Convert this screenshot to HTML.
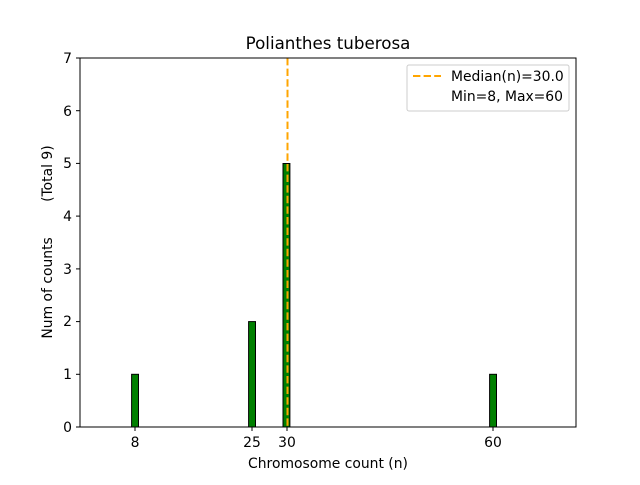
<!DOCTYPE html>
<html><head><style>body{margin:0;background:#fff}text{white-space:pre}</style></head><body>
<svg width="640" height="480" xmlns="http://www.w3.org/2000/svg" font-family="DejaVu Sans, Liberation Sans, sans-serif">
<rect width="640" height="480" fill="#fff"/>
<g fill="green" stroke="#000" stroke-width="1">
<rect x="131.6" y="374.3" width="6.9" height="52.7"/>
<rect x="248.6" y="321.6" width="6.9" height="105.4"/>
<rect x="283.0" y="163.5" width="6.9" height="263.5"/>
<rect x="489.6" y="374.3" width="6.9" height="52.7"/>
</g>
<line x1="287.5" y1="58" x2="287.5" y2="427" stroke="orange" stroke-width="2" stroke-dasharray="7.4,3.2"/>
<rect x="80" y="58" width="496" height="369" fill="none" stroke="#000" stroke-width="1"/>
<g stroke="#000">
<line x1="135" y1="427" x2="135" y2="431"/><line x1="252" y1="427" x2="252" y2="431"/>
<line x1="287" y1="427" x2="287" y2="431"/><line x1="493" y1="427" x2="493" y2="431"/>
<line x1="76" y1="427" x2="80" y2="427"/><line x1="76" y1="374.3" x2="80" y2="374.3"/>
<line x1="76" y1="321.6" x2="80" y2="321.6"/><line x1="76" y1="268.9" x2="80" y2="268.9"/>
<line x1="76" y1="216.1" x2="80" y2="216.1"/><line x1="76" y1="163.4" x2="80" y2="163.4"/>
<line x1="76" y1="110.7" x2="80" y2="110.7"/><line x1="76" y1="58" x2="80" y2="58"/>
</g>
<g font-size="13.9" text-anchor="middle">
<text x="135" y="447">8</text><text x="252" y="447">25</text><text x="287" y="447">30</text><text x="493" y="447">60</text>
</g>
<g font-size="13.9" text-anchor="end">
<text x="72" y="432">0</text><text x="72" y="379">1</text><text x="72" y="326">2</text><text x="72" y="274">3</text>
<text x="72" y="221">4</text><text x="72" y="168">5</text><text x="72" y="116">6</text><text x="72" y="63">7</text>
</g>
<text x="328" y="468" font-size="13.9" text-anchor="middle">Chromosome count (n)</text>
<text transform="translate(52,242) rotate(-90)" font-size="13.9" text-anchor="middle" xml:space="preserve">Num of counts        (Total 9)</text>
<text x="328" y="49" font-size="16.7" text-anchor="middle">Polianthes tuberosa</text>
<rect x="407" y="65" width="162" height="46" rx="2" fill="#fff" stroke="#ccc"/>
<line x1="413" y1="76" x2="441" y2="76" stroke="orange" stroke-width="2" stroke-dasharray="7.4,3.2"/>
<text x="451" y="81" font-size="13.9">Median(n)=30.0</text>
<text x="451" y="101" font-size="13.9">Min=8, Max=60</text>
</svg>
</body></html>
